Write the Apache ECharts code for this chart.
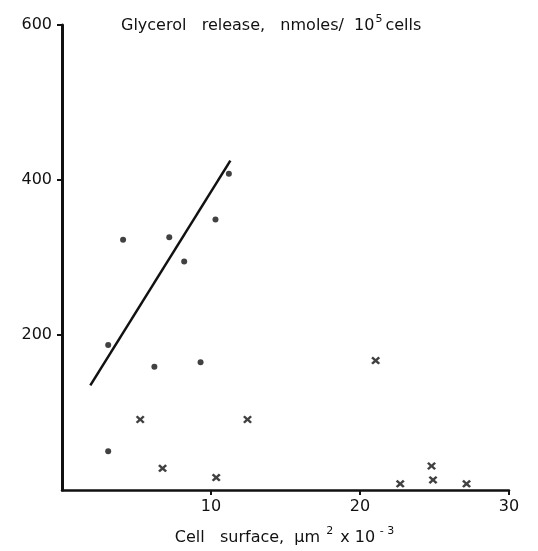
<!DOCTYPE html>
<html>
<head>
<meta charset="utf-8">
<script src="https://cdn.jsdelivr.net/npm/echarts@6/dist/echarts.min.js"></script>
<style>
  html, body { margin: 0; padding: 0; background: #fff; }
  #chart { width: 538px; height: 551px; }
</style>
</head>
<body>
<div id="chart"></div>
<script>
// values
var dotX = [11.2, 10.3, 4.1, 7.2, 8.2, 3.1, 6.2, 9.3, 3.1];
var dotY = [408, 349, 323, 326, 295, 187, 159, 165, 50];

var crossX = [5.25, 12.45, 6.75, 10.35, 21.05, 22.7, 24.8, 24.9, 27.15];
var crossY = [91, 91, 28, 16, 167, 8, 31, 13, 8];

var fitX = [1.9, 11.3];
var fitY = [135, 425];

var xTicks = [10, 20, 30];
var yTicks = [200, 400, 600];

var ink = '#111';
var font = 'DejaVu Sans';

function pairs(xs, ys) {
    return xs.map(function (x, i) { return [x, ys[i]]; });
}

var crossPath = 'path://M0,2L2,0L5,3L8,0L10,2L7,5L10,8L8,10L5,7L2,10L0,8L3,5Z';

var chart = echarts.init(document.getElementById('chart'));

chart.setOption({
    animation: false,
    title: {
        text: '{t|Glycerol   release,   nmoles/  10}{s|5}{t|cells}',
        left: 116,
        top: 9,
        textStyle: {
            rich: {
                t: { fontFamily: font, fontSize: 16, fontWeight: 'normal', color: ink, verticalAlign: 'bottom', lineHeight: 20 },
                s: { fontFamily: font, fontSize: 11, fontWeight: 'normal', color: ink, verticalAlign: 'top', lineHeight: 20, padding: [0, 3, 0, 1] }
            }
        }
    },
    grid: { left: 62, right: 29, top: 25, bottom: 56 },
    xAxis: {
        type: 'value',
        min: 0,
        max: 30,
        interval: 10,
        splitLine: { show: false },
        axisLine: { lineStyle: { color: ink, width: 2.5 } },
        axisTick: { length: 5, customValues: xTicks, lineStyle: { color: ink, width: 2 } },
        axisLabel: { color: ink, fontFamily: font, fontSize: 16, margin: 9, customValues: xTicks },
        name: '{t|Cell   surface,  \u00b5m }{s|2}{t| x 10}{s| - 3}',
        nameLocation: 'middle',
        nameGap: 36,
        nameTextStyle: {
            rich: {
                t: { fontFamily: font, fontSize: 16, color: ink, verticalAlign: 'bottom', lineHeight: 20 },
                s: { fontFamily: font, fontSize: 11, color: ink, verticalAlign: 'top', lineHeight: 20, padding: [0, 2, 0, 1] }
            }
        }
    },
    yAxis: {
        type: 'value',
        min: 0,
        max: 600,
        interval: 200,
        splitLine: { show: false },
        axisLine: { lineStyle: { color: ink, width: 3 } },
        axisTick: { length: 5, customValues: yTicks, lineStyle: { color: ink, width: 2 } },
        axisLabel: { color: ink, fontFamily: font, fontSize: 16, margin: 10, customValues: yTicks }
    },
    series: [
        {
            type: 'line',
            data: pairs(fitX, fitY),
            symbol: 'none',
            lineStyle: { color: ink, width: 2.5 },
            z: 2
        },
        {
            type: 'scatter',
            data: pairs(dotX, dotY),
            symbol: 'circle',
            symbolSize: 6,
            itemStyle: { color: ink },
            z: 3
        },
        {
            type: 'scatter',
            data: pairs(crossX, crossY),
            symbol: crossPath,
            symbolSize: [9, 8],
            itemStyle: { color: ink },
            z: 3
        }
    ]
});
</script>
</body>
</html>
